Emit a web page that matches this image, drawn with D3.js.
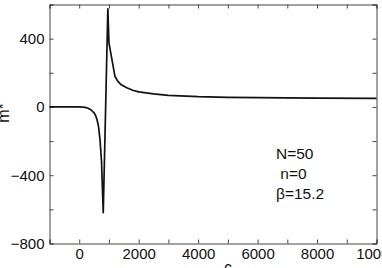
<!DOCTYPE html>
<html>
<head>
<meta charset="utf-8">
<script src="https://cdn.jsdelivr.net/npm/d3@7"></script>
<style>
  body { margin: 0; background: #fff; }
  svg { display: block; }
</style>
</head>
<body>
<div id="chart"></div>
<script>
// values
var cVals = [-1000, 0, 200, 300, 400, 500, 550, 600, 650, 700, 750, 808, 963, 1000, 1200, 1300, 1400, 1600, 1800, 2000, 2500, 3000, 4000, 5000, 6000, 8000, 10000];
var mVals = [0, 0, -3, -8, -18, -35, -50, -75, -115, -195, -320, -620, 575, 375, 180, 150, 132, 112, 98, 88, 76, 68, 60, 56, 54, 52, 50];
var xTickVals = d3.range(-1000, 10001, 1000);
var yTickVals = d3.range(-800, 601, 200);
var notes = ["N=50", " n=0", "\u03b2=15.2"];

var W = 382, H = 268;
var margin = {left: 49.5, right: 5.5, top: 4.5, bottom: 24.5};
var w = W - margin.left - margin.right, h = H - margin.top - margin.bottom;

var svg = d3.select("#chart").append("svg").attr("width", W).attr("height", H);
var g = svg.append("g").attr("transform", "translate(" + margin.left + "," + margin.top + ")");

var x = d3.scaleLinear().domain([-1000, 10000]).range([0, w]);
var y = d3.scaleLinear().domain([-800, 600]).range([h, 0]);

var fmt = d3.format("d");

g.append("g").attr("class", "axis").attr("transform", "translate(0," + h + ")")
  .call(d3.axisBottom(x).tickValues(xTickVals).tickSize(-4).tickPadding(5)
    .tickFormat(function(d){ return d >= 0 && d % 2000 === 0 ? fmt(d) : ""; }));
g.append("g").attr("class", "axis")
  .call(d3.axisTop(x).tickValues(xTickVals).tickSize(-4).tickFormat(""));
g.append("g").attr("class", "axis")
  .call(d3.axisLeft(y).tickValues(yTickVals).tickSize(-4).tickPadding(5)
    .tickFormat(function(d){ return d % 400 === 0 ? fmt(d) : ""; }));
g.append("g").attr("class", "axis").attr("transform", "translate(" + w + ",0)")
  .call(d3.axisRight(y).tickValues(yTickVals).tickSize(-4).tickFormat(""));

g.selectAll(".axis path, .axis line").attr("stroke", "#444").attr("stroke-width", 1);
g.selectAll(".axis text").attr("font-family", "Liberation Sans, Arial, sans-serif")
  .attr("font-size", "15px").attr("fill", "#111");

var line = d3.line().x(function(d){ return x(d[0]); }).y(function(d){ return y(d[1]); });
g.append("path")
  .datum(cVals.map(function(c, i){ return [c, mVals[i]]; }))
  .attr("fill", "none").attr("stroke", "#111").attr("stroke-width", 1.7)
  .attr("stroke-linejoin", "round")
  .attr("d", line);

svg.selectAll(".note").data(notes).enter().append("text")
  .attr("x", 276).attr("y", function(d, i){ return 159 + i * 20; })
  .attr("font-family", "Liberation Sans, Arial, sans-serif").attr("font-size", "15.5px")
  .attr("fill", "#111")
  .attr("xml:space", "preserve")
  .style("white-space", "pre")
  .text(function(d){ return d; });

svg.append("text")
  .attr("transform", "translate(9,113) rotate(-90)")
  .attr("text-anchor", "middle")
  .attr("font-family", "Liberation Sans, Arial, sans-serif").attr("font-size", "16px")
  .attr("fill", "#111")
  .text("m*");

svg.append("text")
  .attr("x", 228).attr("y", 273)
  .attr("text-anchor", "middle")
  .attr("font-family", "Liberation Sans, Arial, sans-serif").attr("font-size", "16px")
  .attr("fill", "#111")
  .text("c");
</script>
</body>
</html>
